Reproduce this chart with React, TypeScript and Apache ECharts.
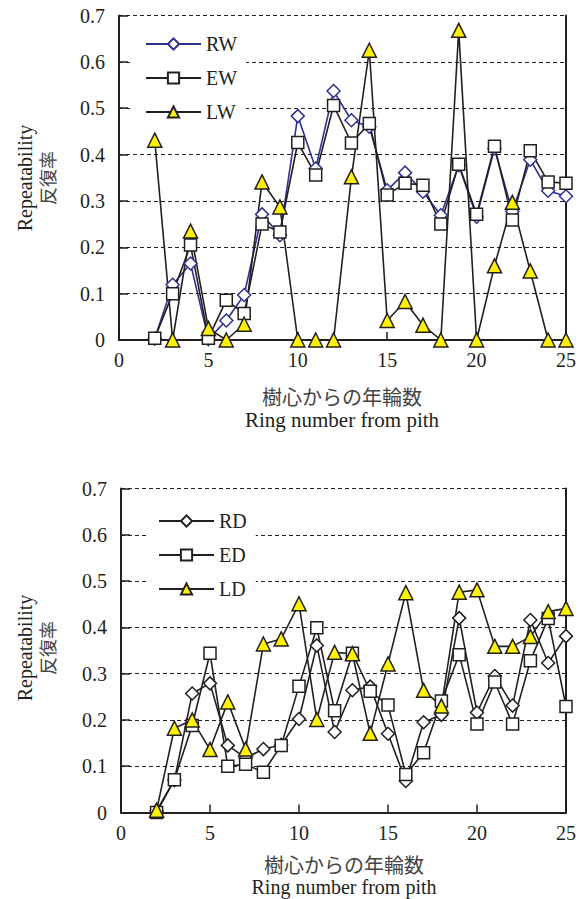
import React, { useEffect, useRef } from "react";
import * as echarts from "echarts";

const rings = [2, 3, 4, 5, 6, 7, 8, 9, 10, 11, 12, 13, 14, 15, 16, 17, 18, 19, 20, 21, 22, 23, 24, 25];

const RW = [0.003, 0.119, 0.165, 0.002, 0.042, 0.097, 0.271, 0.226, 0.483, 0.37, 0.537, 0.474, 0.46, 0.323, 0.361, 0.32, 0.269, 0.377, 0.266, 0.413, 0.277, 0.389, 0.322, 0.31];
const EW = [0.004, 0.1, 0.205, 0.004, 0.086, 0.057, 0.25, 0.233, 0.426, 0.356, 0.506, 0.425, 0.467, 0.313, 0.338, 0.334, 0.25, 0.379, 0.271, 0.418, 0.259, 0.408, 0.341, 0.338];
const LW = [0.431, 0, 0.235, 0.025, 0, 0.034, 0.341, 0.287, 0, 0, 0, 0.352, 0.625, 0.042, 0.083, 0.032, 0, 0.668, 0, 0.16, 0.297, 0.149, 0, 0];

const RD = [0.004, 0.07, 0.257, 0.279, 0.145, 0.118, 0.137, 0.146, 0.202, 0.361, 0.174, 0.264, 0.272, 0.17, 0.068, 0.195, 0.211, 0.42, 0.216, 0.295, 0.231, 0.416, 0.323, 0.381];
const ED = [0, 0.071, 0.188, 0.344, 0.1, 0.104, 0.087, 0.145, 0.273, 0.399, 0.22, 0.344, 0.262, 0.232, 0.082, 0.129, 0.241, 0.341, 0.191, 0.282, 0.191, 0.328, 0.419, 0.229];
const LD = [0.005, 0.182, 0.2, 0.136, 0.239, 0.137, 0.364, 0.375, 0.451, 0.201, 0.346, 0.343, 0.171, 0.321, 0.475, 0.264, 0.23, 0.476, 0.481, 0.359, 0.359, 0.38, 0.434, 0.441];

const xTicks = [0, 5, 10, 15, 20, 25];
const yTitleEn = "Repeatability";
const yTitleJa = "反復率";
const xTitleJa = "樹心からの年輪数";
const xTitleEn = "Ring number from pith";

const TXT = "#231f20";
const SERIF = "Liberation Serif";
const CJK = "Noto Sans CJK JP";
const BLUE = "#2e3192";
const YELLOW = "#fff200";

function pairs(ys: number[]) {
  return rings.map((r, i) => [r, ys[i]]);
}

function xAxisFor(gridIndex: number) {
  return {
    type: "value",
    gridIndex,
    min: xTicks[0],
    max: xTicks[xTicks.length - 1],
    interval: 5,
    axisLine: { show: true, onZero: false, lineStyle: { color: TXT, width: 2 } },
    axisTick: { show: true, inside: true, length: 8, lineStyle: { color: TXT, width: 1.5 } },
    axisLabel: { margin: 10, fontFamily: SERIF, fontSize: 20, color: TXT },
    splitLine: { show: false },
  };
}

function yAxisFor(gridIndex: number) {
  return {
    type: "value",
    gridIndex,
    min: 0,
    max: 0.7,
    interval: 0.1,
    axisLine: { show: true, lineStyle: { color: TXT, width: 2 } },
    axisTick: { show: true, inside: true, length: 9, lineStyle: { color: TXT, width: 1.5 } },
    axisLabel: {
      margin: 14,
      fontFamily: SERIF,
      fontSize: 20,
      color: TXT,
      formatter: (v: number) => (v === 0 ? "0" : v.toFixed(1)),
    },
    splitLine: { show: true, lineStyle: { color: TXT, width: 1, type: [4, 3] } },
  };
}

function rightAxisFor(gridIndex: number) {
  return {
    type: "value",
    gridIndex,
    position: "right",
    min: 0,
    max: 0.7,
    interval: 0.1,
    axisLine: { show: true, lineStyle: { color: TXT, width: 2 } },
    axisTick: { show: false },
    axisLabel: { show: false },
    splitLine: { show: false },
  };
}

function series(name: string, ys: number[], idx: number, symbol: string, fill: string, stroke: string, size: number) {
  return {
    name,
    type: "line",
    xAxisIndex: idx,
    yAxisIndex: idx * 2,
    data: pairs(ys),
    symbol,
    symbolSize: size,
    showAllSymbol: true,
    lineStyle: { color: stroke, width: 1.6 },
    itemStyle: { color: fill, borderColor: stroke, borderWidth: 1.5 },
    emphasis: { disabled: true },
  };
}

function titleText(text: string, x: number, y: number, family: string, size: number, rot: number, color = TXT) {
  return {
    type: "text",
    x,
    y,
    rotation: rot,
    style: {
      text,
      fontFamily: family,
      fontSize: size,
      fontWeight: "normal",
      fill: color,
      textAlign: "center",
      textVerticalAlign: "middle",
    },
  };
}

export default function App() {
  const ref = useRef<HTMLDivElement>(null);
  useEffect(() => {
    if (!ref.current) return;
    const chart = echarts.init(ref.current, undefined, { renderer: "svg" });
    const legendBase = {
      orient: "vertical",
      backgroundColor: "#fff",
      padding: [8, 9, 8, 12],
      itemWidth: 55,
      itemHeight: 14,
      itemGap: 14,
      selectedMode: false,
      textStyle: { fontFamily: SERIF, fontSize: 20, color: TXT },
    };
    chart.setOption({
      animation: false,
      backgroundColor: "#fff",
      grid: [
        { left: 119, top: 15.5, width: 451, height: 324.5 },
        { left: 121, top: 488.5, width: 451, height: 324 },
      ],
      xAxis: [xAxisFor(0), xAxisFor(1)],
      yAxis: [yAxisFor(0), rightAxisFor(0), yAxisFor(1), rightAxisFor(1)],
      legend: [
        { ...legendBase, data: ["RW", "EW", "LW"], left: 133, top: 26 },
        { ...legendBase, data: ["RD", "ED", "LD"], left: 146, top: 503 },
      ],
      series: [
        series("RW", RW, 0, "diamond", "#fff", BLUE, 13),
        series("EW", EW, 0, "rect", "#fff", TXT, 12),
        series("LW", LW, 0, "triangle", YELLOW, TXT, 14),
        series("RD", RD, 1, "diamond", "#fff", TXT, 13),
        series("ED", ED, 1, "rect", "#fff", TXT, 12),
        series("LD", LD, 1, "triangle", YELLOW, TXT, 14),
      ],
      graphic: [
        titleText(yTitleEn, 25, 178, SERIF, 20, Math.PI / 2),
        titleText(yTitleJa, 47, 178, CJK, 18, Math.PI / 2, "#444"),
        titleText(xTitleJa, 342, 396, CJK, 20, 0, "#444"),
        titleText(xTitleEn, 342, 420, SERIF, 21, 0),
        titleText(yTitleEn, 25, 648, SERIF, 20, Math.PI / 2),
        titleText(yTitleJa, 47, 648, CJK, 18, Math.PI / 2, "#444"),
        titleText(xTitleJa, 344, 864, CJK, 20, 0, "#444"),
        titleText(xTitleEn, 344, 887, SERIF, 20, 0),
      ],
    });
    return () => chart.dispose();
  }, []);
  return (
    <div
      ref={ref}
      style={{ position: "fixed", left: 0, top: 0, width: 579, height: 899, background: "#fff" }}
    />
  );
}
